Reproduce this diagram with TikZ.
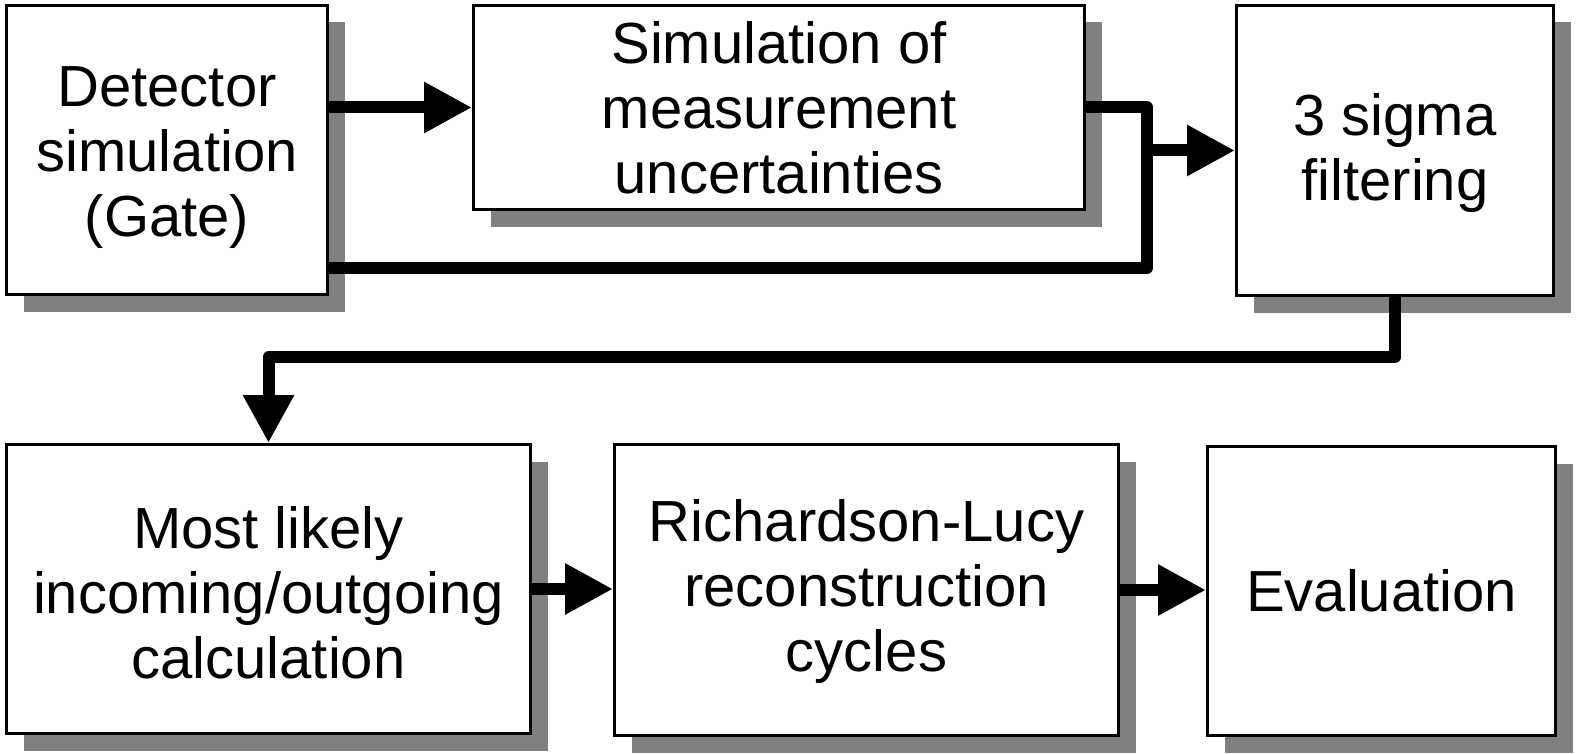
\documentclass[tikz,border=0pt]{standalone}
\usepackage{fontspec}
\setmainfont{Liberation Sans}
\usetikzlibrary{arrows.meta,shadows}
\definecolor{shadowgray}{HTML}{808080}
\begin{document}
\begin{tikzpicture}[x=1pt,y=-1pt,
  box/.style={draw, line width=3pt, fill=white, align=center, inner sep=0pt,
    font=\fontsize{58}{65}\selectfont,
    drop shadow={shadow xshift=17pt, shadow yshift=-17pt, fill=shadowgray, opacity=1}},
  conn/.style={line width=12pt, line join=round},
  arr/.style={conn, -{Triangle[length=48pt,width=48pt]}}]
\useasboundingbox (0,0) rectangle (1576,754);
\node[box, minimum width=321pt, minimum height=289pt] (b1) at (167,150) {\rule{0pt}{56pt}Detector\\simulation\\(Gate)};
\node[box, minimum width=611pt, minimum height=204pt] (b2) at (779,107.5) {Simulation of\\measurement\\uncertainties};
\node[box, minimum width=317pt, minimum height=290pt] (b3) at (1395,150.5) {\rule{0pt}{48pt}3 sigma\\filtering};
\node[box, minimum width=524pt, minimum height=289pt] (b4) at (268.5,589) {\rule{0pt}{50pt}Most likely\\incoming/outgoing\\calculation};
\node[box, minimum width=504pt, minimum height=291pt] (b5) at (866.5,590) {\rule{0pt}{46pt}Richardson-Lucy\\reconstruction\\cycles};
\node[box, minimum width=348pt, minimum height=289pt] (b6) at (1381.5,591) {Evaluation};
\coordinate (low) at (1147,268);
\draw[arr] (b1.east |- b2.east) -- (b2.west);
\draw[conn] (b2.east) -| (low) -- (b1.east |- low);
\draw[arr] (low |- b3.west) -- (b3.west);
\draw[arr] (b3.south) -- ++(0,60) -| (b4.north);
\draw[arr] (b4.east) -- (b4.east -| b5.west);
\draw[arr] (b5.east) -- (b5.east -| b6.west);
\end{tikzpicture}
\end{document}
